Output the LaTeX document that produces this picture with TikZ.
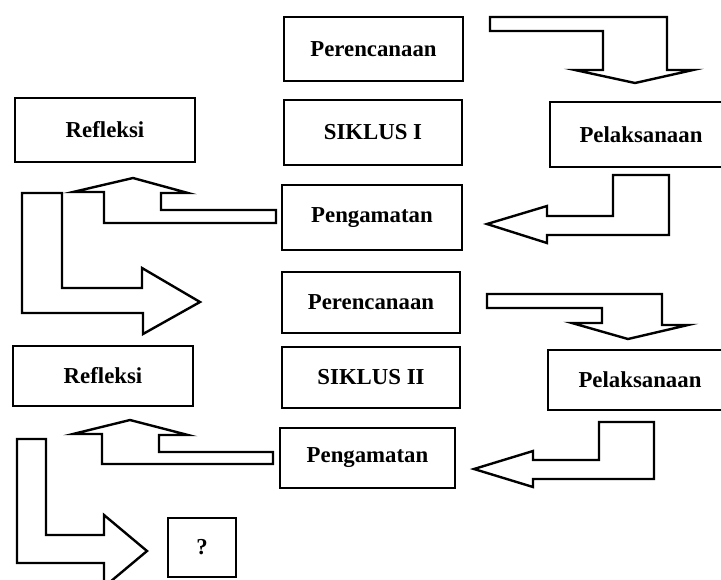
\documentclass[tikz,border=0pt]{standalone}
\usepackage{fontspec}
\setmainfont{Liberation Serif}
\begin{document}
\begin{tikzpicture}[x=0.5pt,y=-0.5pt,
  box/.style={draw, line width=1.1pt, inner sep=0pt, font=\bfseries\fontsize{11.4}{13}\selectfont},
  blockarrow/.style={draw, line width=1.2pt, line join=miter}]
\useasboundingbox (0,0) rectangle (721,579);
\clip (0,0) rectangle (721,579);
% boxes
\node[box, minimum width=89.5pt, minimum height=32pt] (p1) at (373.5,49) {Perencanaan};
\node[box, minimum width=89pt, minimum height=32.5pt] (s1) at (373,132.5) {SIKLUS I};
\node[box, minimum width=91pt, minimum height=32.5pt] (l1) at (641,134.5) {Pelaksanaan};
\node[box, minimum width=90pt, minimum height=32pt] (r1) at (105,130) {Refleksi};
\node[box, minimum width=90pt, minimum height=32.5pt] (g1) at (372,217.5) {Pengamatan};
\node[box, minimum width=89pt, minimum height=30.5pt] (p2) at (371,302.5) {Perencanaan};
\node[box, minimum width=89pt, minimum height=30.5pt] (s2) at (371,377.5) {SIKLUS II};
\node[box, minimum width=92pt, minimum height=30pt] (l2) at (640,380) {Pelaksanaan};
\node[box, minimum width=90pt, minimum height=30pt] (r2) at (103,376) {Refleksi};
\node[box, minimum width=87.5pt, minimum height=30pt] (g2) at (367.5,458) {Pengamatan};
\node[box, minimum width=34pt, minimum height=29.5pt] (q) at (202,547.5) {?};
% block arrows
\draw[blockarrow] (490,17) -- (667,17) -- (667,70) -- (693,70) -- (635,83) -- (575,70) -- (603,70) -- (603,31) -- (490,31) -- cycle;
\draw[blockarrow] (613,175) -- (669,175) -- (669,235) -- (547,235) -- (547,243) -- (487,224) -- (547,206) -- (547,216) -- (613,216) -- cycle;
\draw[blockarrow] (276,210) -- (276,223) -- (104,223) -- (104,192) -- (73,192) -- (133,178) -- (188,193) -- (161,193) -- (161,210) -- cycle;
\draw[blockarrow] (22,193) -- (62,193) -- (62,288) -- (142,288) -- (142,268) -- (200,302) -- (143,334) -- (143,313) -- (22,313) -- cycle;
\draw[blockarrow] (487,294) -- (662,294) -- (662,325) -- (688,325) -- (628,339) -- (572,323) -- (602,323) -- (602,308) -- (487,308) -- cycle;
\draw[blockarrow] (599,422) -- (654,422) -- (654,479) -- (533,479) -- (533,487) -- (474,469) -- (533,451) -- (533,460) -- (599,460) -- cycle;
\draw[blockarrow] (273,452) -- (273,464) -- (102,464) -- (102,434) -- (73,434) -- (130,420) -- (188,435) -- (159,435) -- (159,452) -- cycle;
\draw[blockarrow] (17,439) -- (46,439) -- (46,535) -- (104,535) -- (104,515) -- (147,551) -- (104,587) -- (104,563) -- (17,563) -- cycle;
\end{tikzpicture}
\end{document}
